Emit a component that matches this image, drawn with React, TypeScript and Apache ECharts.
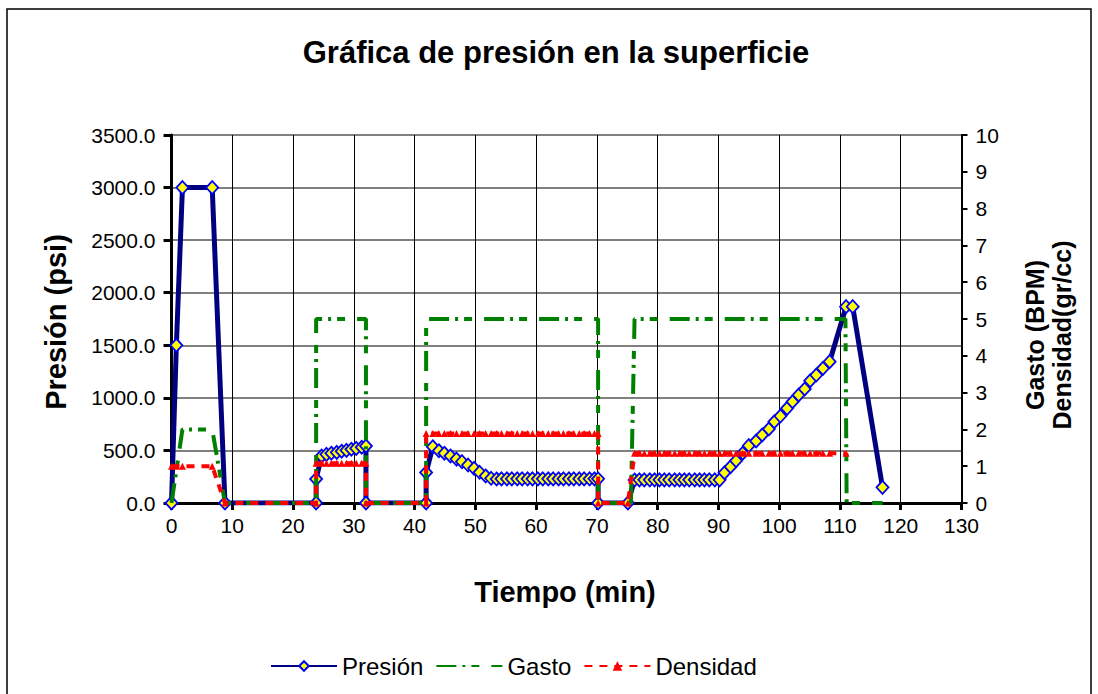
import { useEffect, useRef } from "react";
import * as echarts from "echarts";

// Tiempo (min) shared by Presión and Densidad
const tiempo = [
  0, 0.8, 1.8, 6.7, 8.8,
  23.8, 23.8, 24.7, 25.5, 26.3, 27.2, 28.0, 28.8, 29.6, 30.4, 31.3, 32.0, 32.0,
  41.9, 41.9, 43.0, 44.0, 44.9, 45.9, 46.9, 47.8, 48.8, 49.8, 50.7, 51.7, 52.6, 53.5,
  54.3, 55.2, 56.0, 56.9, 57.7, 58.6, 59.4, 60.3, 61.1, 62.0, 62.8, 63.7, 64.5, 65.4,
  66.2, 67.1, 67.9, 68.8, 69.6, 70.2, 70.2,
  75.1, 76.2, 77.0, 77.8, 78.7, 79.5, 80.3, 81.1, 81.9, 82.8, 83.6, 84.4, 85.2, 86.1,
  86.9, 87.7, 88.5, 89.4, 90.2,
  91.0, 92.0, 92.9, 94.0, 95.0, 96.2, 97.2, 98.3, 99.2, 100.2, 101.3, 102.2, 103.2,
  104.2, 105.1, 106.1, 107.2, 108.3, 111.0, 112.1, 117.0,
];

// Presión (psi)
const presion = [
  0, 1500, 3000, 3000, 0,
  0, 228, 447, 463, 473, 482, 492, 501, 511, 520, 530, 542, 0,
  0, 290, 535, 497, 473, 447, 418, 393, 361, 330, 292, 257, 235, 228,
  230, 230, 230, 230, 230, 230, 230, 230, 230, 230, 230, 230, 230, 230,
  230, 230, 230, 230, 230, 230, 0,
  0, 219, 220, 220, 220, 220, 220, 220, 220, 220, 220, 220, 220, 220,
  220, 220, 220, 220, 220,
  288, 345, 402, 473, 545, 590, 647, 704, 773, 827, 900, 963, 1027,
  1084, 1163, 1217, 1281, 1344, 1867, 1867, 149,
];

// Densidad (gr/cc)
const densidad = [
  1.0, 1.0, 1.0, 1.0, 0,
  0, 1.08, 1.08, 1.08, 1.08, 1.08, 1.08, 1.08, 1.08, 1.08, 1.08, 1.08, 0,
  0, 1.89, 1.89, 1.89, 1.89, 1.89, 1.89, 1.89, 1.89, 1.89, 1.89, 1.89, 1.89, 1.89,
  1.89, 1.89, 1.89, 1.89, 1.89, 1.89, 1.89, 1.89, 1.89, 1.89, 1.89, 1.89, 1.89, 1.89,
  1.89, 1.89, 1.89, 1.89, 1.89, 1.89, 0,
  0, 1.35, 1.35, 1.35, 1.35, 1.35, 1.35, 1.35, 1.35, 1.35, 1.35, 1.35, 1.35, 1.35,
  1.35, 1.35, 1.35, 1.35, 1.35,
  1.35, 1.35, 1.35, 1.35, 1.35, 1.35, 1.35, 1.35, 1.35, 1.35, 1.35, 1.35, 1.35,
  1.35, 1.35, 1.35, 1.35, 1.35, 1.35, null, null,
];

// Gasto (BPM)
const gastoTiempo = [0, 1.8, 6.7, 8.8, 23.8, 23.8, 32.0, 32.0, 41.9, 41.9, 70.2, 70.2, 75.6, 76.2, 110.9, 111.1, 117.0];
const gasto = [0, 2, 2, 0, 0, 5, 5, 0, 0, 5, 5, 0, 0, 5, 5, 0, 0];

const FONT = '"Liberation Sans", Arial, sans-serif';

export default function App() {
  const ref = useRef<HTMLDivElement>(null);
  useEffect(() => {
    document.body.style.margin = "0";
    if (!ref.current) return;
    const chart = echarts.init(ref.current, null, { renderer: "svg" });
    const option: any = {
      animation: false,
      backgroundColor: "#ffffff",
      textStyle: { fontFamily: FONT, color: "#000" },
      grid: { left: 171.5, top: 135, width: 790, height: 368, containLabel: false, outerBoundsMode: "none" },
      xAxis: {
        type: "value",
        min: 0,
        max: 130,
        interval: 10,
        axisLine: { show: true, onZero: false, lineStyle: { color: "#000", width: 3 } },
        axisTick: { show: true, length: 7, lineStyle: { color: "#000", width: 3 } },
        axisLabel: { fontSize: 21, color: "#000", margin: 12, fontFamily: FONT },
        splitLine: { show: true, lineStyle: { color: "#000", width: 1 } },
      },
      yAxis: [
        {
          type: "value",
          min: 0,
          max: 3500,
          interval: 500,
          position: "left",
          axisLine: { show: true, lineStyle: { color: "#000", width: 3 } },
          axisTick: { show: true, length: 8, lineStyle: { color: "#000", width: 3 } },
          axisLabel: { fontSize: 21, color: "#000", margin: 16, fontFamily: FONT, formatter: (v: number) => v.toFixed(1) },
          splitLine: { show: true, lineStyle: { color: "#808080", width: 2 } },
        },
        {
          type: "value",
          min: 0,
          max: 10,
          interval: 1,
          position: "right",
          axisLine: { show: true, lineStyle: { color: "#000", width: 2 } },
          axisTick: { show: true, length: 6, lineStyle: { color: "#000", width: 2 } },
          axisLabel: { fontSize: 21, color: "#000", margin: 14, fontFamily: FONT },
          splitLine: { show: false },
        },
      ],
      legend: {
        left: 265,
        top: 649,
        orient: "horizontal",
        itemWidth: 66,
        itemHeight: 12,
        itemGap: 12,
        textStyle: { fontSize: 24, color: "#000", fontFamily: FONT },
        data: [
          { name: "Presión" },
          { name: "Gasto", itemStyle: { opacity: 0 } },
          { name: "Densidad" },
        ],
      },
      graphic: [
        {
          type: "rect",
          silent: true,
          z: -10,
          shape: { x: 7, y: 9, width: 1084, height: 700 },
          style: { fill: "none", stroke: "#000", lineWidth: 1.5 },
        },
        {
          type: "text",
          x: 556,
          y: 52,
          style: { text: "Gráfica de presión en la superficie", fontSize: 31, fontWeight: "bold", fontFamily: FONT, fill: "#000", align: "center", verticalAlign: "middle" },
        },
        {
          type: "text",
          x: 565,
          y: 592,
          style: { text: "Tiempo (min)", fontSize: 29, fontWeight: "bold", fontFamily: FONT, fill: "#000", align: "center", verticalAlign: "middle" },
        },
        {
          type: "text",
          x: 56,
          y: 322,
          rotation: Math.PI / 2,
          style: { text: "Presión (psi)", fontSize: 29, fontWeight: "bold", fontFamily: FONT, fill: "#000", align: "center", verticalAlign: "middle" },
        },
        {
          type: "text",
          x: 1048,
          y: 335,
          rotation: Math.PI / 2,
          style: { text: "Gasto (BPM)\nDensidad(gr/cc)", fontSize: 25, lineHeight: 27, fontWeight: "bold", fontFamily: FONT, fill: "#000", align: "center", verticalAlign: "middle" },
        },
      ],
      series: [
        {
          name: "Presión",
          type: "line",
          yAxisIndex: 0,
          data: tiempo.map((t, i) => [t, presion[i]]),
          symbol: "diamond",
          symbolSize: [12, 13],
          showSymbol: true,
          lineStyle: { color: "#000080", width: 5 },
          itemStyle: { color: "#FFFF00", borderColor: "#0000FF", borderWidth: 1.8 },
          emphasis: { disabled: true },
          z: 2,
        },
        {
          name: "Gasto",
          type: "line",
          yAxisIndex: 1,
          data: gastoTiempo.map((t, i) => [t, gasto[i]]),
          symbol: "none",
          lineStyle: { color: "#008000", width: 4, type: [20, 6, 3, 6, 8, 12] },
          itemStyle: { color: "#008000" },
          emphasis: { disabled: true },
          z: 3,
        },
        {
          name: "Densidad",
          type: "line",
          yAxisIndex: 1,
          data: tiempo.map((t, i) => [t, densidad[i]]),
          symbol: "triangle",
          symbolSize: 7,
          connectNulls: false,
          lineStyle: { color: "#FF0000", width: 4, type: [8, 7] },
          itemStyle: { color: "#FF0000" },
          emphasis: { disabled: true },
          z: 4,
        },
      ],
    };
    chart.setOption(option);
    return () => chart.dispose();
  }, []);
  return <div ref={ref} style={{ width: 1098, height: 694 }} />;
}
